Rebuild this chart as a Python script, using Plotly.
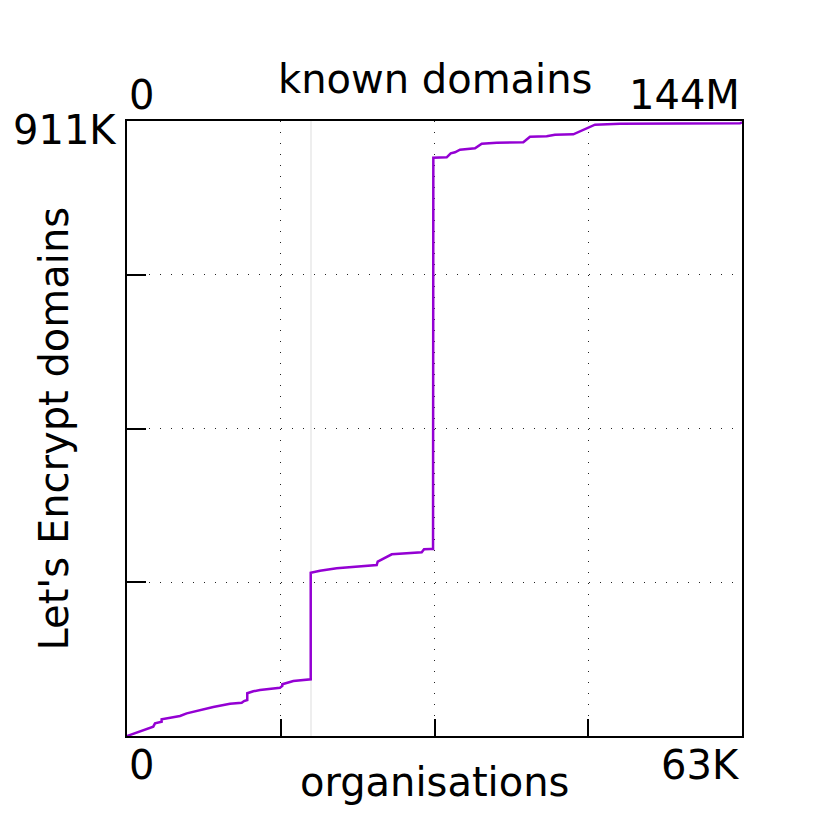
import plotly.graph_objects as go

# cumulative Let's Encrypt domains vs organisations
orgs = [0, 2690, 2870, 3550, 3550, 5430, 6120, 7480, 8840, 10550, 11750, 11990,
        12320, 12320, 12940, 13620, 15670, 15910, 15910, 17040, 18680, 18820,
        18820, 19770, 21480, 25580, 25680, 26600, 27120, 30190, 30430, 31110,
        31350, 31380, 32750, 33160, 33600, 34110, 35650, 36340, 37870, 40600,
        41280, 42990, 43840, 45720, 46920, 47940, 50500, 62800, 63000]
le_domains = [0, 13800, 18800, 21200, 24700, 29600, 33600, 38500, 43000, 47800,
              49300, 51800, 53300, 63300, 66200, 68100, 71500, 74100, 76600,
              81500, 84000, 84000, 241900, 244900, 248400, 253300, 258200,
              264700, 269100, 272100, 276600, 277000, 277000, 856600, 857200,
              863200, 864600, 868500, 870600, 877400, 878900, 879500, 887700,
              888300, 890700, 891300, 899600, 905500, 907000, 907600, 909000]

# faint marker line
marker_org = 18850

x_max = 63000
y_max = 911000
x_grid = [15750, 31500, 47250]
y_grid = [227750, 455500, 683250]

FONT = "DejaVu Sans"
FS = 40
LINE_COLOR = "#9400d3"

fig = go.Figure()
fig.add_trace(go.Scatter(
    x=[marker_org, marker_org], y=[0, y_max], mode="lines",
    line=dict(color="#eeeeee", width=2), hoverinfo="skip", showlegend=False,
))
fig.add_trace(go.Scatter(
    x=orgs, y=le_domains, mode="lines",
    line=dict(color=LINE_COLOR, width=2.5), showlegend=False,
))

axis_common = dict(
    showline=True, mirror=True, linecolor="black", linewidth=2,
    showgrid=True, gridcolor="#222222", gridwidth=1, griddash="1px,10px",
    ticks="inside", tickcolor="black", tickwidth=2,
    showticklabels=False, zeroline=False,
)
fig.update_xaxes(range=[0, x_max], tickvals=x_grid, ticklen=17, **axis_common)
fig.update_yaxes(range=[0, y_max], tickvals=y_grid, ticklen=19, **axis_common)

text_font = dict(family=FONT, size=FS, color="black")
annotations = [
    dict(text="0", x=0, y=0, xanchor="left", yanchor="top", yshift=-4),
    dict(text="63K", x=1, y=0, xanchor="right", yanchor="top", yshift=-4),
    dict(text="organisations", x=0.5, y=0, xanchor="center", yanchor="top", yshift=-21),
    dict(text="0", x=0, y=1, xanchor="left", yanchor="bottom", yshift=1),
    dict(text="144M", x=1, y=1, xanchor="right", yanchor="bottom", yshift=1),
    dict(text="known domains", x=0.5, y=1, xanchor="center", yanchor="bottom", yshift=17),
    dict(text="911K", x=0, y=1, xanchor="right", yanchor="middle", xshift=-8, yshift=-9),
    dict(text="Let's Encrypt domains", x=0, y=0.5, xanchor="center", yanchor="middle",
         xshift=-74, textangle=-90),
]
for a in annotations:
    fig.add_annotation(xref="paper", yref="paper", showarrow=False, font=text_font, **a)

fig.update_layout(
    width=830, height=830,
    margin=dict(l=119, r=96, t=113, b=102),
    paper_bgcolor="white", plot_bgcolor="white",
    font=dict(family=FONT),
)

fig.write_html("out.html")
